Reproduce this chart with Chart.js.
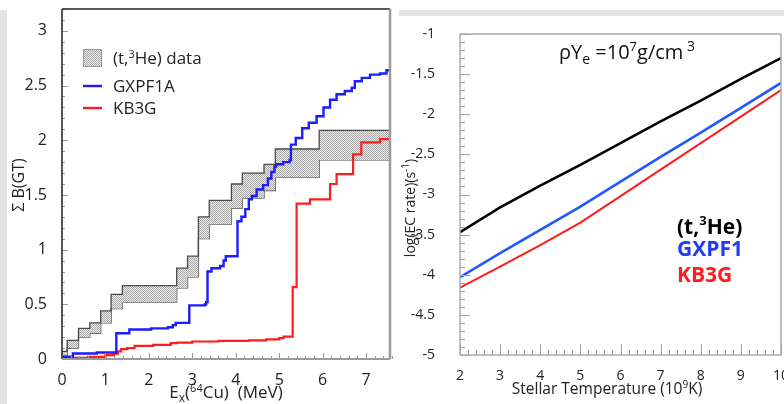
<!DOCTYPE html>
<html>
<head>
<meta charset="utf-8">
<script src="https://cdn.jsdelivr.net/npm/chart.js@4.4.1/dist/chart.umd.min.js"></script>
<style>
  body { margin: 0; background: #fff; width: 784px; height: 404px; overflow: hidden; position: relative; }
  #leftStrip { position: absolute; left: 0; top: 10px; width: 7px; height: 394px; background: #e3e3e3; }
  #topStrip { position: absolute; left: 399px; top: 10px; width: 385px; height: 6px; background: #e3e3e3; }
  #boxL { position: absolute; left: 0; top: 0; width: 395px; height: 404px; }
  #boxR { position: absolute; left: 400px; top: 0; width: 384px; height: 404px; }
</style>
</head>
<body>
<div id="leftStrip"></div>
<div id="topStrip"></div>
<div id="boxL"><canvas id="chartBgt" width="395" height="404"></canvas></div>
<div id="boxR"><canvas id="chartEc" width="384" height="404"></canvas></div>
<script>
// ---- left panel: summed B(GT) vs Ex(64Cu) ----
var exEdges   = [0, 0.12, 0.38, 0.64, 0.89, 1.13, 1.39, 2.64, 2.89, 3.14, 3.39, 3.90, 4.15, 4.65, 4.91, 5.92, 7.55];
var dataUpper = [0.07, 0.17, 0.28, 0.33, 0.44, 0.59, 0.67, 0.83, 0.94, 1.30, 1.45, 1.60, 1.70, 1.78, 1.92, 2.09, 2.09];
var dataLower = [0.03, 0.10, 0.20, 0.235, 0.33, 0.46, 0.52, 0.65, 0.75, 1.10, 1.23, 1.38, 1.47, 1.54, 1.66, 1.82, 1.82];

var gxEx = [0, 0.25, 0.80, 1.25, 1.55, 2.05, 2.44, 2.55, 2.62, 2.93, 3.29, 3.32, 3.35, 3.44, 3.64,
            3.72, 3.77, 4.04, 4.13, 4.22, 4.30, 4.37, 4.48, 4.63, 4.74, 4.82, 4.89, 4.93, 5.09, 5.24,
            5.27, 5.38, 5.53, 5.68, 5.86, 6.02, 6.17, 6.32, 6.51, 6.67, 6.74, 6.90, 7.09, 7.32, 7.47, 7.55];
var gxBgt = [0.02, 0.05, 0.06, 0.235, 0.27, 0.28, 0.29, 0.31, 0.33, 0.49, 0.50, 0.52, 0.80, 0.83, 0.85,
             0.90, 0.94, 1.26, 1.30, 1.37, 1.46, 1.49, 1.55, 1.59, 1.65, 1.71, 1.76, 1.78, 1.80, 1.82,
             1.96, 2.02, 2.11, 2.16, 2.22, 2.30, 2.37, 2.42, 2.45, 2.48, 2.54, 2.57, 2.60, 2.61, 2.64, 2.64];

var kbEx  = [0, 0.6, 1.0, 1.2, 1.29, 1.36, 1.5, 1.67, 2.1, 2.5, 2.65, 3.0, 3.6, 4.3, 4.7, 5.0, 5.1,
             5.31, 5.40, 5.71, 6.17, 6.32, 6.70, 6.89, 7.32, 7.55];
var kbBgt = [0.01, 0.02, 0.035, 0.05, 0.07, 0.09, 0.10, 0.12, 0.13, 0.145, 0.15, 0.16, 0.165, 0.17, 0.18, 0.19, 0.205,
             0.657, 1.42, 1.46, 1.60, 1.69, 1.87, 1.98, 2.01, 2.01];

var exTicks  = [0, 1, 2, 3, 4, 5, 6, 7];
var bgtTicks = [0, 0.5, 1, 1.5, 2, 2.5, 3];

// ---- right panel: EC rate vs stellar temperature ----
var temps   = [2, 3, 4, 5, 6, 7, 8, 9, 10];
var ecData  = [-3.47, -3.16, -2.89, -2.63, -2.36, -2.09, -1.83, -1.56, -1.30];
var ecGxpf1 = [-4.03, -3.73, -3.44, -3.15, -2.84, -2.53, -2.23, -1.92, -1.61];
var ecKb3g  = [-4.16, -3.90, -3.63, -3.35, -3.02, -2.69, -2.36, -2.03, -1.70];

var tempTicks = [2, 3, 4, 5, 6, 7, 8, 9, 10];
var ecTicks   = [-5, -4.5, -4, -3.5, -3, -2.5, -2, -1.5, -1];

var FONT = "'Open Sans', 'DejaVu Sans', sans-serif";
Chart.defaults.font.family = FONT;
Chart.defaults.color = '#222';

function pts(xs, ys) {
  return xs.map(function (x, i) { return { x: x, y: ys[i] }; });
}

function hatch() {
  var c = document.createElement('canvas');
  c.width = 2; c.height = 2;
  var g = c.getContext('2d');
  g.fillStyle = '#ececec'; g.fillRect(0, 0, 2, 2);
  g.fillStyle = '#a8a8a8'; g.fillRect(0, 0, 1, 1); g.fillRect(1, 1, 1, 1);
  return g.createPattern(c, 'repeat');
}
var bandFill = hatch();

// text with sub/superscripts, parts = [text, size, dy]
function drawParts(ctx, parts, x, y, align, weight) {
  var total = 0;
  parts.forEach(function (p) {
    ctx.font = (weight || '') + ' ' + p[1] + 'px ' + FONT;
    p.w = ctx.measureText(p[0]).width;
    total += p.w;
  });
  var cx = align === 'center' ? x - total / 2 : x;
  parts.forEach(function (p) {
    ctx.font = (weight || '') + ' ' + p[1] + 'px ' + FONT;
    ctx.fillText(p[0], cx, y + (p[2] || 0));
    cx += p.w;
  });
}

// ticks drawn inside the frame + frame itself
var frameTicks = {
  id: 'frameTicks',
  afterDatasetsDraw: function (chart, args, o) {
    var ctx = chart.ctx, a = chart.chartArea;
    ctx.save();
    ctx.strokeStyle = o.tickColor;
    ctx.lineWidth = 1;
    ['x', 'y'].forEach(function (id) {
      var t = o[id], sc = chart.scales[id];
      var n = Math.round((sc.max - sc.min) / t.minor);
      for (var i = 0; i <= n; i++) {
        var v = sc.min + i * t.minor;
        var r = v / t.major;
        var len = Math.abs(r - Math.round(r)) < 1e-6 ? t.majorLen : t.minorLen;
        var p = Math.round(sc.getPixelForValue(v)) + 0.5;
        ctx.beginPath();
        if (id === 'x') { ctx.moveTo(p, a.bottom); ctx.lineTo(p, a.bottom - len); }
        else { ctx.moveTo(a.left, p); ctx.lineTo(a.left + len, p); }
        ctx.stroke();
      }
    });
    var sides = o.frame;
    function side(s, x1, y1, x2, y2) {
      ctx.strokeStyle = sides[s][0]; ctx.lineWidth = sides[s][1];
      ctx.beginPath(); ctx.moveTo(x1, y1); ctx.lineTo(x2, y2); ctx.stroke();
    }
    side('top', a.left, a.top, a.right, a.top);
    side('left', a.left, a.top, a.left, a.bottom);
    side('right', a.right, a.top, a.right, a.bottom);
    side('bottom', a.left, a.bottom, a.right, a.bottom);
    ctx.restore();
  }
};

function fixY(w) {
  return function (s) { s.width = w; s.paddingTop = 0; s.paddingBottom = 0; };
}
function fixX(h) {
  return function (s) { s.height = h; s.paddingLeft = 0; s.paddingRight = 0; };
}
function setTicks(list) {
  return function (s) { s.ticks = list.map(function (v) { return { value: v }; }); };
}

// ---------- left chart ----------
new Chart(document.getElementById('chartBgt'), {
  type: 'line',
  data: {
    datasets: [
      { label: 'GXPF1A', data: pts(gxEx, gxBgt), stepped: 'before', borderColor: '#1c1cff',
        borderWidth: 2.4, pointRadius: 0, fill: false },
      { label: 'KB3G', data: pts(kbEx, kbBgt), stepped: 'before', borderColor: '#ff1c1c',
        borderWidth: 2.2, pointRadius: 0, fill: false },
      { label: '(t,3He) data', data: pts(exEdges, dataUpper), stepped: 'before', borderColor: '#4a4a4a',
        borderWidth: 1.3, pointRadius: 0, fill: '+1', backgroundColor: bandFill },
      { label: 'lower', data: pts(exEdges, dataLower), stepped: 'before', borderColor: '#4a4a4a',
        borderWidth: 1.3, pointRadius: 0, fill: false }
    ]
  },
  options: {
    responsive: false,
    animation: false,
    layout: { padding: { left: 0, top: 9, right: 5, bottom: 0 } },
    plugins: {
      legend: { display: false },
      tooltip: { enabled: false },
      frameTicks: {
        tickColor: '#9a9a9a',
        x: { minor: 0.2, major: 1, minorLen: 3, majorLen: 6 },
        y: { minor: 0.1, major: 0.5, minorLen: 3, majorLen: 6 },
        frame: { top: ['#222', 1.5], left: ['#222', 1.5], right: ['#9a9a9a', 2.5], bottom: ['#9a9a9a', 2] }
      }
    },
    scales: {
      x: {
        type: 'linear', min: 0, max: 7.55,
        grid: { display: false }, border: { display: false },
        afterBuildTicks: setTicks(exTicks), afterFit: fixX(45),
        ticks: { padding: 4, maxRotation: 0, autoSkip: false, font: { size: 16 }, color: '#222',
                 callback: function (v) { return String(v); } }
      },
      y: {
        min: 0, max: 3.2,
        grid: { display: false }, border: { display: false },
        afterBuildTicks: setTicks(bgtTicks), afterFit: fixY(62),
        ticks: { padding: 7, autoSkip: false, font: { size: 16 }, color: '#222',
                 callback: function (v) { return String(v); } }
      }
    }
  },
  plugins: [frameTicks, {
    id: 'leftText',
    afterDraw: function (chart) {
      var ctx = chart.ctx;
      ctx.save();
      ctx.fillStyle = bandFill;
      ctx.fillRect(83, 49, 19, 18);
      ctx.strokeStyle = '#999'; ctx.lineWidth = 1;
      ctx.strokeRect(83.5, 49.5, 18, 17);
      ctx.lineWidth = 2.4;
      ctx.strokeStyle = '#1c1cff';
      ctx.beginPath(); ctx.moveTo(83, 86); ctx.lineTo(102, 86); ctx.stroke();
      ctx.strokeStyle = '#ff1c1c';
      ctx.beginPath(); ctx.moveTo(83, 108); ctx.lineTo(102, 108); ctx.stroke();
      ctx.fillStyle = '#222';
      ctx.textBaseline = 'alphabetic';
      drawParts(ctx, [['(t,', 17], ['3', 11, -6], ['He) data', 17]], 113, 64, 'left');
      drawParts(ctx, [['GXPF1A', 17]], 113, 92, 'left');
      drawParts(ctx, [['KB3G', 17]], 113, 114, 'left');
      // axis titles
      drawParts(ctx, [['E', 17], ['x', 12, 4], ['(', 17], ['64', 11, -6], ['Cu)  (MeV)', 17]], 226, 398, 'center');
      ctx.translate(24, 185);
      ctx.rotate(-Math.PI / 2);
      drawParts(ctx, [['\u03A3 B(GT)', 16]], 0, 0, 'center');
      ctx.restore();
    }
  }]
});

// ---------- right chart ----------
new Chart(document.getElementById('chartEc'), {
  type: 'line',
  data: {
    datasets: [
      { label: '(t,3He)', data: pts(temps, ecData), borderColor: '#000', borderWidth: 2.6,
        pointRadius: 0, tension: 0, fill: false },
      { label: 'GXPF1', data: pts(temps, ecGxpf1), borderColor: '#2258ff', borderWidth: 2.6,
        pointRadius: 0, tension: 0, fill: false },
      { label: 'KB3G', data: pts(temps, ecKb3g), borderColor: '#ff1c1c', borderWidth: 2,
        pointRadius: 0, tension: 0, fill: false }
    ]
  },
  options: {
    responsive: false,
    animation: false,
    layout: { padding: { left: 0, top: 34, right: 3, bottom: 0 } },
    plugins: {
      legend: { display: false },
      tooltip: { enabled: false },
      frameTicks: {
        tickColor: '#a0a0a0',
        x: { minor: 0.2, major: 1, minorLen: 5, majorLen: 11 },
        y: { minor: 0.1, major: 0.5, minorLen: 5, majorLen: 10 },
        frame: { top: ['#aaa', 1.5], left: ['#aaa', 1.5], right: ['#aaa', 1.5], bottom: ['#aaa', 1.5] }
      }
    },
    scales: {
      x: {
        type: 'linear', min: 2, max: 10,
        grid: { display: false }, border: { display: false },
        afterBuildTicks: setTicks(tempTicks), afterFit: fixX(49),
        ticks: { padding: 5, maxRotation: 0, autoSkip: false, font: { size: 14 }, color: '#222',
                 callback: function (v) { return String(v); } }
      },
      y: {
        min: -5, max: -1,
        grid: { display: false }, border: { display: false },
        afterBuildTicks: setTicks(ecTicks), afterFit: fixY(60),
        ticks: { padding: 17, autoSkip: false, font: { size: 14 }, color: '#222',
                 callback: function (v) { return String(v); } }
      }
    }
  },
  plugins: [frameTicks, {
    id: 'rightText',
    afterDraw: function (chart) {
      var ctx = chart.ctx;
      ctx.save();
      ctx.fillStyle = '#111';
      ctx.textBaseline = 'alphabetic';
      drawParts(ctx, [['\u03C1Y', 20], ['e', 14, 5], [' =10', 20], ['7', 13, -8], ['g/cm', 20], [' 3', 14, -8]], 227, 59, 'center');
      ctx.textBaseline = 'middle';
      ctx.fillStyle = '#000';
      drawParts(ctx, [['(t,', 21], ['3', 13, -7], ['He)', 21]], 277, 228, 'left', 'bold');
      ctx.fillStyle = '#1f3cf0';
      drawParts(ctx, [['GXPF1', 21]], 277, 250, 'left', 'bold');
      ctx.fillStyle = '#ff1c1c';
      drawParts(ctx, [['KB3G', 21]], 277, 276, 'left', 'bold');
      ctx.fillStyle = '#222';
      ctx.textBaseline = 'alphabetic';
      drawParts(ctx, [['Stellar Temperature (10', 15.5], ['9', 10, -6], ['K)', 15.5]], 207, 394, 'center');
      ctx.translate(15, 208);
      ctx.rotate(-Math.PI / 2);
      drawParts(ctx, [['log(EC rate)(s', 14], ['-1', 10, -6], [')', 14]], 0, 0, 'center');
      ctx.restore();
    }
  }]
});
</script>
</body>
</html>
